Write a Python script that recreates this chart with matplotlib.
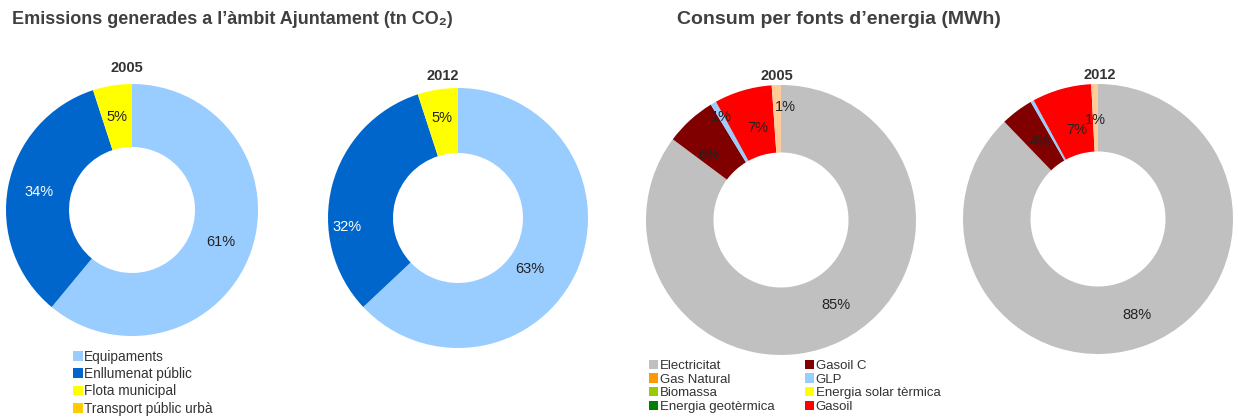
import numpy as np
import matplotlib.pyplot as plt
from matplotlib.patches import Patch

plt.rcParams['font.family'] = ['Liberation Sans', 'DejaVu Sans']

# emissions (tn CO2), share %
em_names = ['Equipaments', 'Enllumenat públic', 'Flota municipal', 'Transport públic urbà']
em_colors = ['#99CCFF', '#0066CC', '#FFFF00', '#FFCC00']
em_2005 = [61, 34, 5, 0]
em_2012 = [63, 32, 5, 0]

# energy consumption (MWh), share %
en_names = ['Electricitat', 'Gas Natural', 'Biomassa', 'Energia geotèrmica',
            'Gasoil C', 'GLP', 'Energia solar tèrmica', 'Gasoil', 'Altres']
en_colors = ['#C0C0C0', '#FF9900', '#99CC00', '#008000',
             '#800000', '#99CCFF', '#FFFF00', '#FF0000', '#FFCC99']
en_2005 = [85.2, 0, 0, 0, 6.1, 0.7, 0, 6.9, 1.1]
en_2012 = [87.8, 0, 0, 0, 3.9, 0.4, 0, 7.1, 0.8]

W, H = 1238, 418
fig = plt.figure(figsize=(W / 100, H / 100), dpi=100)


def donut(cx, cy, r, values, colors, year, year_pos, nudges, txtcolors):
    ax = fig.add_axes([(cx - r) / W, (H - cy - r) / H, 2 * r / W, 2 * r / H])
    wedges, _ = ax.pie(values, colors=colors, startangle=90, counterclock=False,
                       radius=1, wedgeprops=dict(width=0.5, linewidth=0))
    ax.set_xlim(-1, 1)
    ax.set_ylim(-1, 1)
    ax.set_aspect('auto')
    ax.axis('off')
    k = 0
    for w, v in zip(wedges, values):
        if round(v) < 1:
            continue
        mid = (w.theta1 + w.theta2) / 2
        da, rr = nudges[k]
        ang = np.deg2rad(mid + da)
        ax.text(rr * np.cos(ang), rr * np.sin(ang), '%d%%' % round(v),
                ha='center', va='center', fontsize=10.5, color=txtcolors[k])
        k += 1
    ax.text(year_pos[0], year_pos[1], year, ha='center', va='center', fontsize=10.5,
            fontweight='bold', color='#333333')
    return ax


donut(132, 210, 126, em_2005, em_colors, '2005', (-0.04, 1.13),
      [(0, 0.75), (0, 0.75), (0, 0.75)], ['#222222', 'white', '#222222'])
donut(458, 218, 130, em_2012, em_colors, '2012', (-0.12, 1.09),
      [(-12, 0.68), (19, 0.86), (0, 0.78)], ['#222222', 'white', '#222222'])
donut(781, 220, 135, en_2005, en_colors, '2005', (-0.03, 1.07),
      [(6, 0.75), (6, 0.72), (0, 0.88), (-2, 0.7), (-4, 0.84)],
      ['#222222'] * 5)
donut(1098, 219, 135, en_2012, en_colors, '2012', (0.01, 1.07),
      [(0, 0.77), (0, 0.72), (-2, 0.68), (0, 0.73)],
      ['#222222'] * 4)

fig.text(12 / W, 1 - 20 / H, 'Emissions generades a l\u2019àmbit Ajuntament (tn CO\u2082)',
         fontsize=13, fontweight='bold', color='#404040', va='center', ha='left')
fig.text(677 / W, 1 - 20 / H, 'Consum per fonts d\u2019energia (MWh)',
         fontsize=14, fontweight='bold', color='#404040', va='center', ha='left')

h1 = [Patch(facecolor=c, edgecolor='none') for c in em_colors]
fig.legend(h1, em_names, loc='upper left', bbox_to_anchor=(66 / W, 1 - 343 / H),
           frameon=False, fontsize=9.8, handlelength=0.72, handleheight=0.72,
           handletextpad=0.12, labelspacing=0.24, borderpad=0, labelcolor='#333333')

h2 = [Patch(facecolor=c, edgecolor='none') for c in en_colors[:8]]
fig.legend(h2, en_names[:8], loc='upper left', ncol=2, bbox_to_anchor=(642 / W, 1 - 353 / H),
           frameon=False, fontsize=9.5, handlelength=0.72, handleheight=0.72,
           handletextpad=0.12, labelspacing=0.1, columnspacing=2.3, borderpad=0,
           labelcolor='#333333')

fig.savefig('out.png', dpi=100)
